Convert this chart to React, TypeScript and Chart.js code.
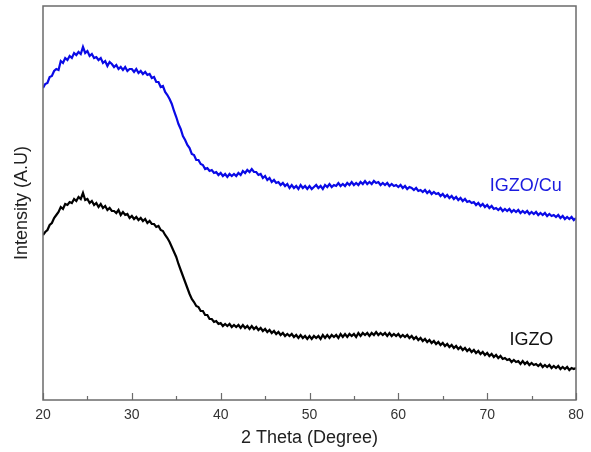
import React, { useEffect, useRef } from "react";
import { Chart, registerables } from "chart.js";

Chart.register(...registerables);

// 2θ sampling (degrees)
const twoTheta = [
  20, 20.25, 20.5, 20.75, 21, 21.25, 21.5, 21.75, 22, 22.25, 22.5, 22.75, 23, 23.25, 23.5, 23.75,
  24, 24.25, 24.5, 24.75, 25, 25.25, 25.5, 25.75, 26, 26.25, 26.5, 26.75, 27, 27.25, 27.5, 27.75,
  28, 28.25, 28.5, 28.75, 29, 29.25, 29.5, 29.75, 30, 30.25, 30.5, 30.75, 31, 31.25, 31.5, 31.75,
  32, 32.25, 32.5, 32.75, 33, 33.25, 33.5, 33.75, 34, 34.25, 34.5, 34.75, 35, 35.25, 35.5, 35.75,
  36, 36.25, 36.5, 36.75, 37, 37.25, 37.5, 37.75, 38, 38.25, 38.5, 38.75, 39, 39.25, 39.5, 39.75,
  40, 40.25, 40.5, 40.75, 41, 41.25, 41.5, 41.75, 42, 42.25, 42.5, 42.75, 43, 43.25, 43.5, 43.75,
  44, 44.25, 44.5, 44.75, 45, 45.25, 45.5, 45.75, 46, 46.25, 46.5, 46.75, 47, 47.25, 47.5, 47.75,
  48, 48.25, 48.5, 48.75, 49, 49.25, 49.5, 49.75, 50, 50.25, 50.5, 50.75, 51, 51.25, 51.5, 51.75,
  52, 52.25, 52.5, 52.75, 53, 53.25, 53.5, 53.75, 54, 54.25, 54.5, 54.75, 55, 55.25, 55.5, 55.75,
  56, 56.25, 56.5, 56.75, 57, 57.25, 57.5, 57.75, 58, 58.25, 58.5, 58.75, 59, 59.25, 59.5, 59.75,
  60, 60.25, 60.5, 60.75, 61, 61.25, 61.5, 61.75, 62, 62.25, 62.5, 62.75, 63, 63.25, 63.5, 63.75,
  64, 64.25, 64.5, 64.75, 65, 65.25, 65.5, 65.75, 66, 66.25, 66.5, 66.75, 67, 67.25, 67.5, 67.75,
  68, 68.25, 68.5, 68.75, 69, 69.25, 69.5, 69.75, 70, 70.25, 70.5, 70.75, 71, 71.25, 71.5, 71.75,
  72, 72.25, 72.5, 72.75, 73, 73.25, 73.5, 73.75, 74, 74.25, 74.5, 74.75, 75, 75.25, 75.5, 75.75,
  76, 76.25, 76.5, 76.75, 77, 77.25, 77.5, 77.75, 78, 78.25, 78.5, 78.75, 79, 79.25, 79.5, 79.75,
  80,
];

// IGZO/Cu intensity (a.u.)
const igzoCu = [
  312, 316, 317, 323, 324, 329, 331, 330, 339, 337, 342, 340, 344, 342, 347, 345,
  348, 346, 353, 347, 349, 344, 346, 342, 343, 340, 342, 337, 339, 334, 338, 336,
  333, 335, 331, 333, 330, 333, 329, 331, 331, 328, 331, 327, 329, 326, 328, 325,
  326, 322, 323, 318, 318, 313, 314, 308, 305, 301, 296, 289, 283, 276, 271, 264,
  260, 255, 252, 246, 245, 240, 240, 236, 235, 231, 232, 229, 230, 227, 228, 225,
  227, 224, 226, 223, 226, 224, 226, 224, 227, 225, 229, 227, 230, 228, 231, 228,
  228, 225, 226, 222, 224, 220, 222, 218, 220, 217, 218, 215, 217, 214, 216, 212,
  215, 212, 214, 211, 215, 212, 214, 211, 214, 211, 213, 215, 212, 214, 211, 215,
  213, 216, 213, 215, 214, 217, 214, 216, 214, 217, 215, 218, 215, 217, 215, 218,
  216, 219, 216, 218, 216, 219, 217, 218, 215, 217, 215, 217, 214, 216, 214, 215,
  213, 215, 212, 214, 211, 213, 212, 210, 212, 209, 210, 208, 210, 207, 209, 206,
  208, 206, 207, 204, 206, 203, 205, 202, 204, 201, 203, 200, 202, 199, 201, 198,
  199, 197, 198, 195, 197, 194, 196, 193, 195, 192, 194, 191, 192, 190, 192, 189,
  191, 189, 191, 188, 190, 188, 190, 187, 189, 187, 189, 186, 188, 186, 188, 185,
  187, 185, 187, 184, 186, 184, 185, 183, 185, 182, 184, 181, 183, 181, 183, 180,
  182,
];

// IGZO intensity (a.u.)
const igzo = [
  165, 168, 170, 175, 177, 182, 185, 188, 193, 191, 196, 195, 198, 197, 201, 199,
  203, 201, 207, 200, 201, 197, 199, 195, 197, 193, 196, 192, 194, 190, 192, 189,
  189, 187, 190, 185, 188, 185, 186, 182, 184, 181, 183, 180, 182, 179, 181, 177,
  179, 176, 176, 173, 174, 170, 169, 165, 162, 158, 153, 148, 143, 136, 130, 124,
  118, 112, 106, 101, 98, 94, 93, 89, 89, 85, 85, 81, 81, 78, 79, 76,
  77, 74, 76, 74, 76, 73, 75, 73, 75, 72, 75, 72, 74, 71, 74, 71,
  73, 70, 72, 69, 71, 68, 70, 67, 69, 66, 68, 65, 67, 64, 66, 64,
  66, 63, 65, 62, 65, 62, 64, 61, 64, 61, 64, 62, 64, 61, 65, 62,
  65, 62, 65, 63, 65, 62, 66, 63, 66, 63, 66, 64, 66, 63, 67, 64,
  67, 65, 67, 64, 67, 65, 68, 65, 67, 65, 67, 64, 67, 64, 66, 64,
  66, 63, 65, 63, 65, 62, 64, 61, 63, 60, 62, 59, 61, 58, 60, 57,
  59, 56, 58, 55, 57, 54, 56, 53, 55, 52, 54, 51, 53, 50, 52, 49,
  51, 48, 50, 47, 49, 46, 48, 45, 47, 44, 46, 43, 45, 42, 44, 41,
  42, 40, 41, 38, 40, 38, 39, 36, 39, 36, 38, 35, 37, 35, 36, 34,
  36, 33, 35, 33, 35, 32, 34, 32, 34, 31, 33, 31, 33, 30, 32, 31,
  32,
];

const xMajorTicks = [20, 30, 40, 50, 60, 70, 80];
const xMinorTicks = [25, 35, 45, 55, 65, 75];

const labels = [
  { text: "IGZO/Cu", x: 70.3, y: 214, color: "#1a1adf" },
  { text: "IGZO", x: 72.5, y: 60, color: "#111111" },
];

const FONT = "Arial, 'Liberation Sans', sans-serif";

const framePlugin = {
  id: "frame",
  afterDraw(chart: any) {
    const { ctx, chartArea: a, scales } = chart;
    const xs = scales.x;
    const ys = scales.y;
    ctx.save();
    ctx.strokeStyle = "#6b6b6b";
    ctx.lineWidth = 1.5;
    ctx.strokeRect(a.left, a.top, a.right - a.left, a.bottom - a.top);
    ctx.lineWidth = 1.2;
    ctx.beginPath();
    xMajorTicks.forEach((v) => {
      const px = Math.round(xs.getPixelForValue(v)) + 0.5;
      ctx.moveTo(px, a.bottom);
      ctx.lineTo(px, a.bottom - 7);
    });
    xMinorTicks.forEach((v) => {
      const px = Math.round(xs.getPixelForValue(v)) + 0.5;
      ctx.moveTo(px, a.bottom);
      ctx.lineTo(px, a.bottom - 4);
    });
    ctx.stroke();
    ctx.font = `18px ${FONT}`;
    ctx.textBaseline = "middle";
    ctx.textAlign = "left";
    labels.forEach((l) => {
      ctx.fillStyle = l.color;
      ctx.fillText(l.text, xs.getPixelForValue(l.x), ys.getPixelForValue(l.y));
    });
    ctx.restore();
  },
};

export default function App() {
  const ref = useRef<HTMLCanvasElement | null>(null);
  useEffect(() => {
    if (!ref.current) return;
    const chart = new Chart(ref.current, {
      type: "line",
      data: {
        datasets: [
          {
            label: "IGZO/Cu",
            data: twoTheta.map((x, i) => ({ x, y: igzoCu[i] })),
            borderColor: "#0a0ae6",
            borderWidth: 2.2,
            pointRadius: 0,
            tension: 0,
          },
          {
            label: "IGZO",
            data: twoTheta.map((x, i) => ({ x, y: igzo[i] })),
            borderColor: "#000000",
            borderWidth: 2.2,
            pointRadius: 0,
            tension: 0,
          },
        ],
      },
      options: {
        responsive: false,
        animation: false,
        devicePixelRatio: 1,
        layout: { padding: { top: 6, right: 15, left: 0, bottom: 0 } },
        plugins: { legend: { display: false }, tooltip: { enabled: false } },
        scales: {
          x: {
            type: "linear",
            min: 20,
            max: 80,
            grid: { display: false, drawTicks: false },
            border: { display: false },
            ticks: {
              stepSize: 10,
              padding: 7,
              color: "#333333",
              font: { family: FONT, size: 14 },
              maxRotation: 0,
            },
            title: {
              display: true,
              text: "2 Theta (Degree)",
              color: "#222222",
              font: { family: FONT, size: 18 },
              padding: { top: 0, bottom: 3 },
            },
            afterFit(scale: any) {
              scale.height = 52;
            },
          },
          y: {
            min: 0,
            max: 394,
            grid: { display: false, drawTicks: false },
            border: { display: false },
            ticks: { display: false },
            title: {
              display: true,
              text: "Intensity (A.U)",
              color: "#222222",
              font: { family: FONT, size: 18 },
              padding: { top: 11, bottom: 0 },
            },
            afterFit(scale: any) {
              scale.width = 43;
            },
          },
        },
      },
      plugins: [framePlugin],
    });
    return () => chart.destroy();
  }, []);
  return (
    <div style={{ position: "absolute", left: 0, top: 0, width: 591, height: 452, background: "#fff" }}>
      <canvas ref={ref} width={591} height={452} />
    </div>
  );
}
